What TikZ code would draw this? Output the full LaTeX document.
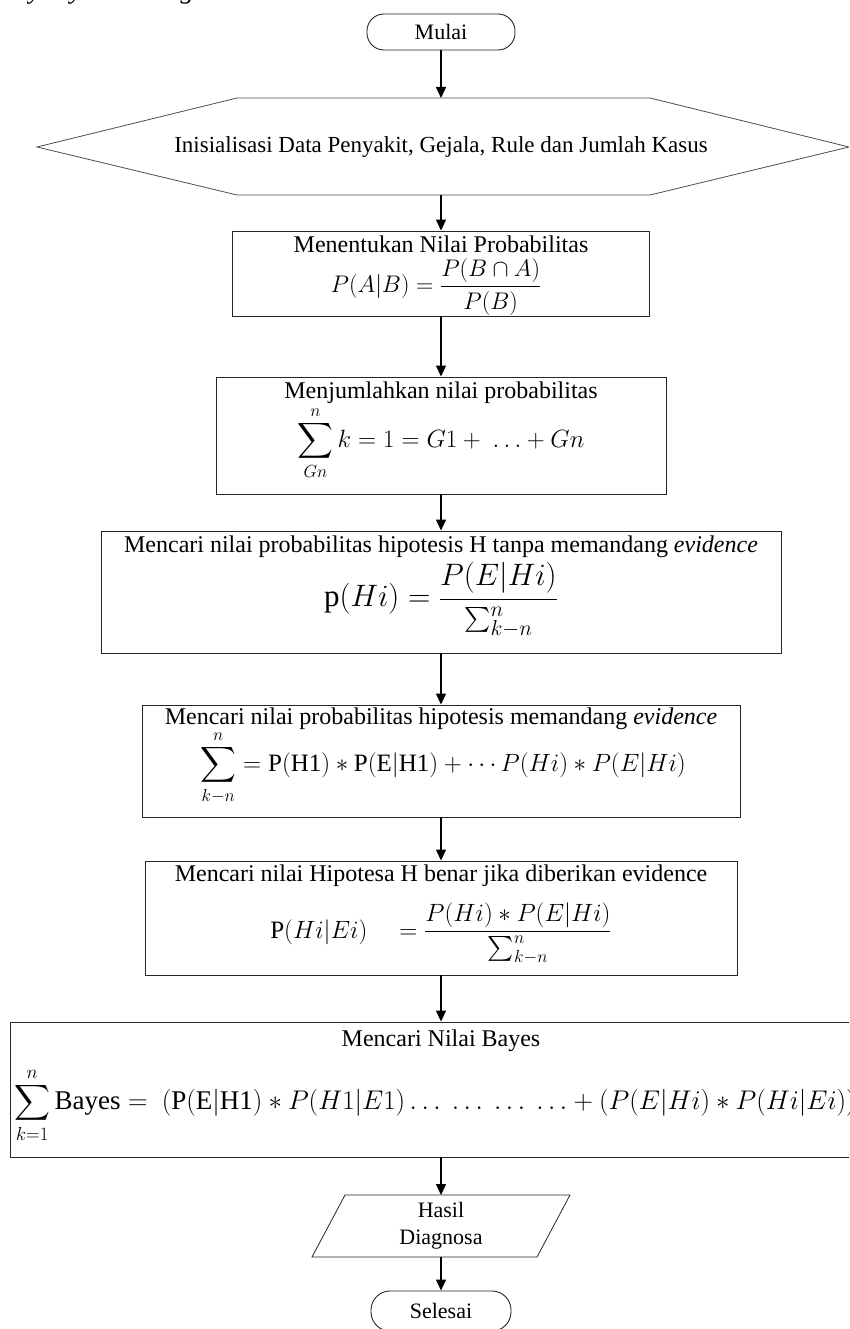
\RequirePackage{fix-cm}
\documentclass[tikz,border=0pt]{standalone}
\usepackage{amsmath}
\usepackage{fontspec}
\setmainfont{Liberation Serif}
\usetikzlibrary{arrows.meta}
\newcommand\tsz{\fontsize{22}{27}\selectfont}
\newcommand\hsz{\fontsize{24}{28}\selectfont}
\newcommand\msz{\fontsize{25}{29}\selectfont}
\newcommand\mbig{\fontsize{31}{35}\selectfont}
\begin{document}
\begin{tikzpicture}[x=1pt,y=-1pt,
  box/.style={draw=black!85,line width=0.9pt,inner sep=0pt},
  term/.style={draw=black!85,line width=0.9pt,rounded corners=17pt,inner sep=0pt,minimum width=148pt,minimum height=36pt,font=\tsz},
  lbl/.style={inner sep=0pt,font=\hsz},
  mth/.style={inner sep=0pt,font=\msz},
  arr/.style={line width=1.3pt,-{Triangle[length=11pt,width=10pt]}},
  shp/.style={draw=black!70,line width=0.8pt}
]
\useasboundingbox (0,0) rectangle (849,1329);
\clip (0,0) rectangle (849,1329);

% cut-off line of text at the top
\node[anchor=base west,inner sep=0pt,font=\fontsize{27}{30}\selectfont\itshape] (top) at (-1,-1) {Bayes yaitu sebagai berikut.};

% start
\node[term] (mulai) at (441,32) {Mulai};

% hexagon
\draw[shp] (37,147) -- (237,98) -- (650,98) -- (849,147) -- (650,195) -- (237,195) -- cycle;
\coordinate (hexN) at (441,98);
\coordinate (hexS) at (441,195);
\node[lbl,font=\fontsize{23}{27}\selectfont] (hx) at (441,147) {Inisialisasi Data Penyakit, Gejala, Rule dan Jumlah Kasus};

% box 1
\node[box,minimum width=417pt,minimum height=85pt] (b1) at (441,273.5) {};
\node[lbl] (t1) at (441,244) {Menentukan Nilai Probabilitas};
\node[mth,font=\fontsize{24}{28}\selectfont] (f1) at (436,287) {$P(A|B) = \dfrac{P(B\cap A)}{P(B)}$};

% box 2
\node[box,minimum width=450pt,minimum height=117pt] (b2) at (441,435.5) {};
\node[lbl] (t2) at (441,393) {Menjumlahkan nilai probabilitas};
\node[mth] (f2) at (441,443) {$\displaystyle\sum_{Gn}^{n} k = 1 = G1 + \ \ldots + Gn$};

% box 3
\node[box,minimum width=680pt,minimum height=122pt] (b3) at (441,592) {};
\node[lbl] (t3) at (441,547) {Mencari nilai probabilitas hipotesis H tanpa memandang \textit{evidence}};
\node[mth,font=\mbig] (f3) at (441,600) {$\mathrm{p}(Hi) = \dfrac{P(E|Hi)}{\sum_{k-n}^{n}}$};

% box 4
\node[box,minimum width=598pt,minimum height=112pt] (b4) at (441,761) {};
\node[lbl] (t4) at (441,719) {Mencari nilai probabilitas hipotesis memandang \textit{evidence}};
\node[mth] (f4) at (443,768) {$\displaystyle\sum_{k-n}^{n} = \mathrm{P(H1)} * \mathrm{P(E|H1)} + \cdots P(Hi) * P(E|Hi)$};

% box 5
\node[box,minimum width=592pt,minimum height=114pt] (b5) at (441,918) {};
\node[lbl] (t5) at (441,876) {Mencari nilai Hipotesa H benar jika diberikan evidence};
\node[mth] (f5) at (441,933) {$\mathrm{P}(Hi|Ei) \quad = \dfrac{P(Hi) * P(E|Hi)}{\sum_{k-n}^{n}}$};

% box 6
\node[box,minimum width=862pt,minimum height=135pt] (b6) at (441,1089.5) {};
\node[lbl] (t6) at (441,1041) {Mencari Nilai Bayes};
\node[mth,anchor=west,font=\fontsize{27}{31}\selectfont] (f6) at (14,1105) {$\displaystyle\sum_{k=1}^{n} \mathrm{Bayes} = \ (\mathrm{P(E|H1)} * P(H1|E1) \ldots\ \ldots\ \ldots\ \ldots + (P(E|Hi) * P(Hi|Ei))$};

% parallelogram
\draw[shp,draw=black!85] (312,1257) -- (345,1195) -- (570,1195) -- (537,1257) -- cycle;
\coordinate (parN) at (441,1195);
\coordinate (parS) at (441,1257);
\node[inner sep=0pt,font=\tsz,align=center] (par) at (441,1226) {Hasil\\Diagnosa};

% end
\node[term,minimum width=140pt,minimum height=40pt,rounded corners=19pt] (selesai) at (441,1311) {Selesai};

% connectors
\draw[arr] (mulai.south) -- (hexN);
\draw[arr] (hexS) -- (b1.north);
\draw[arr] (b1.south) -- (b2.north);
\draw[arr] (b2.south) -- (b3.north);
\draw[arr] (b3.south) -- (b4.north);
\draw[arr] (b4.south) -- (b5.north);
\draw[arr] (b5.south) -- (b6.north);
\draw[arr] (b6.south) -- (parN);
\draw[arr] (parS) -- (selesai.north);
\end{tikzpicture}
\end{document}
